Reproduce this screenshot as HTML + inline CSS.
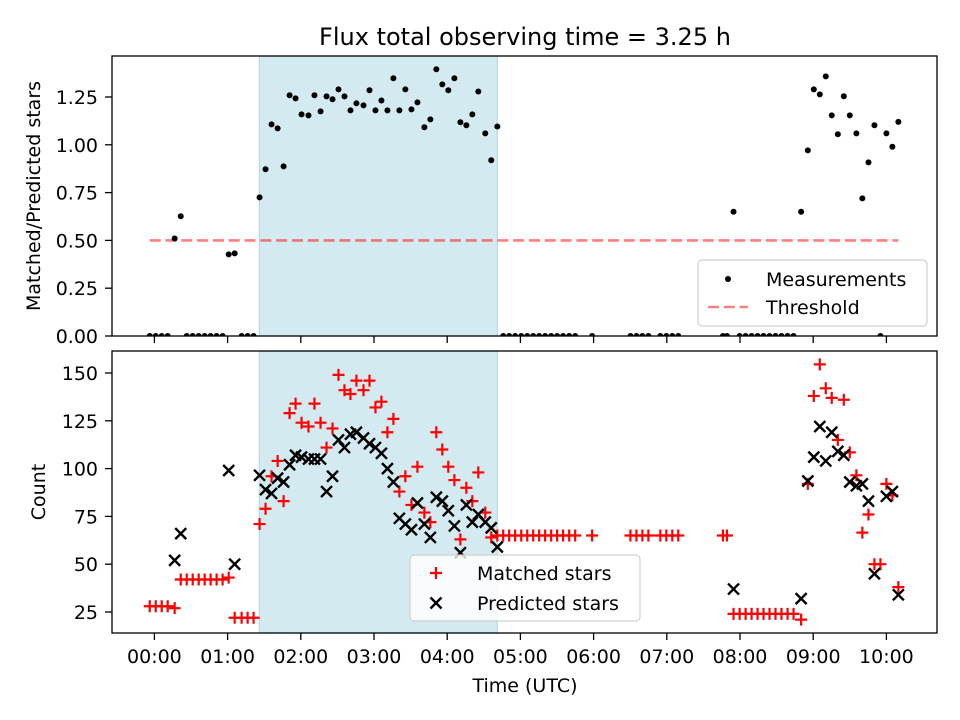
<!DOCTYPE html>
<html><head><meta charset="utf-8"><style>
html,body{margin:0;padding:0;background:#fff;}
svg{display:block;font-family:"DejaVu Sans","Liberation Sans",sans-serif;}
</style></head><body>
<svg id="chart" width="960" height="720" viewBox="0 0 960 720" xmlns="http://www.w3.org/2000/svg">
<rect x="0" y="0" width="960" height="720" fill="#fff"/>
<text x="525" y="45" font-size="24" text-anchor="middle">Flux total observing time = 3.25 h</text>
<g id="top"></g>
<g id="bot"></g>
<text transform="translate(40,196) rotate(-90)" font-size="19" text-anchor="middle">Matched/Predicted stars</text>
<text transform="translate(45,492) rotate(-90)" font-size="19" text-anchor="middle">Count</text>
<text x="525" y="692" font-size="19" text-anchor="middle">Time (UTC)</text>
</svg>
<script>
// sample times in minutes since 00:00 UTC
const times = [-3.8,1.1,6.0,10.9,16.6,21.6,26.5,31.4,36.3,41.2,46.1,51.0,55.9,60.9,65.8,71.5,76.4,81.3,
86.2,91.1,96.0,101.0,105.9,110.8,115.7,120.6,126.3,131.2,136.2,141.1,146.0,150.9,155.8,160.7,165.6,171.4,176.3,181.2,186.1,191.0,195.9,200.8,205.7,210.7,215.6,221.3,226.2,231.1,236.0,240.9,245.9,250.8,255.7,260.6,265.5,271.2,276.1,281.1,
285.9,290.8,295.7,300.7,305.6,310.5,315.4,320.3,325.2,330.1,335.0,340.0,344.9,358.8,
390.2,395.1,400.0,404.9,414.7,419.6,424.5,429.4,466.0,469.3,
474.7,479.7,484.6,489.5,494.4,499.3,504.2,509.1,514.0,519.0,523.9,530.1,
535.6,540.5,545.4,550.3,555.2,560.2,565.1,570.0,575.4,580.3,585.3,590.2,595.1,600.0,604.9,609.8];
const matched = [28,28,28,28,27,42,42,42,42,42,42,42,42,43,22,22,22,22,
71,79,96,104,83,129,134,124,122,134,124,111,121,149,141,139,146,141,146,132,135,119,126,88,96,81,101,77,72,119,110,101,94,63,90,83,98,77,64,65,
65,65,65,65,65,65,65,65,65,65,65,65,65,65,
65,65,65,65,65,65,65,65,65,65,
24,24,24,24,24,24,24,24,24,24,24,21,
92,138,154.5,142,137,115,136,108.5,96.5,66.5,76,50,50,92,86,38];
const predicted = [null,null,null,null,52,66,null,null,null,null,null,null,null,99,50,null,null,null,
96.5,89,87,95,93,102,107,106,105,105,105,88,96,115,111,118,119,116,113,111,108,100,93,74,71,68,82,71,64,85,83,78,70,56,81,72,76,72,69,59,
null,null,null,null,null,null,null,null,null,null,null,null,null,null,
null,null,null,null,null,null,null,null,null,null,
37,null,null,null,null,null,null,null,null,null,null,32,
93.5,106,122,104,119,109,107,93,91,92,83,45,null,85.5,88,34];
const ratio = [0,0,0,0,0.51,0.626,0,0,0,0,0,0,0,0.427,0.432,0,0,0,
0.725,0.872,1.107,1.086,0.887,1.259,1.243,1.159,1.154,1.259,1.175,1.253,1.238,1.29,1.253,1.18,1.217,1.206,1.285,1.18,1.232,1.18,1.348,1.18,1.29,1.185,1.222,1.092,1.133,1.395,1.316,1.285,1.348,1.118,1.102,1.159,1.279,1.06,0.919,1.096,
0,0,0,0,0,0,0,0,0,0,0,0,0,0,
0,0,0,0,0,0,0,0,0,0,
0.65,0,0,0,0,0,0,0,0,0,0,0.65,
0.971,1.29,1.264,1.358,1.154,1.055,1.254,1.154,1.06,0.72,0.908,1.102,0,1.06,0.99,1.12];
const threshold = 0.5;
const spanStart = 86.0, spanEnd = 281.1;
const xTickMinutes = [0,60,120,180,240,300,360,420,480,540,600];
const xTickLabels = ["00:00","01:00","02:00","03:00","04:00","05:00","06:00","07:00","08:00","09:00","10:00"];
const ratioTicks = [0,0.25,0.5,0.75,1.0,1.25];
const ratioTickLabels = ["0.00","0.25","0.50","0.75","1.00","1.25"];
const countTicks = [25,50,75,100,125,150];
const countTickLabels = ["25","50","75","100","125","150"];

const NS = "http://www.w3.org/2000/svg";
const L = 112, R = 937;
const TT = 56, TB = 336, BT = 351, BB = 633;
const xs = m => 154.4 + m * 1.2200;
const yTop = v => TB - v * 191.2;
const yBot = v => 612 - (v - 25) * 1.912;
function mk(tag, attrs, parent) {
  const e = document.createElementNS(NS, tag);
  for (const k in attrs) e.setAttribute(k, attrs[k]);
  parent.appendChild(e);
  return e;
}
function panel(g, top, bottom, ticks, labels, yf, showX, nm) {
  const clipId = 'clip-' + nm;
  const cp = mk('clipPath', {id: clipId}, g);
  mk('rect', {x: L, y: top, width: R - L, height: bottom - top}, cp);
  const span = mk('rect', {x: xs(spanStart), y: top, width: xs(spanEnd) - xs(spanStart), height: bottom - top, fill: '#d4eaf1', stroke: '#b6dbe6', 'stroke-width': 1.2}, g);
  
  
  const marks = mk('g', {'clip-path': 'url(#' + clipId + ')'}, g);
  ticks.forEach((t, i) => {
    const y = yf(t);
    const tk = mk('line', {x1: L - 7, x2: L, y1: y, y2: y, stroke: '#000', 'stroke-width': 1.3}, g);
    
    
    const tl = mk('text', {x: 98, y: y + 7, 'font-size': 19, 'text-anchor': 'end'}, g);
    tl.textContent = labels[i];
    
    
  });
  xTickMinutes.forEach((m, i) => {
    const x = xs(m);
    const tk = mk('line', {x1: x, x2: x, y1: bottom, y2: bottom + 7, stroke: '#000', 'stroke-width': 1.3}, g);
    
    
    if (showX) {
      const tl = mk('text', {x: x, y: 663, 'font-size': 19, 'text-anchor': 'middle'}, g);
      tl.textContent = xTickLabels[i];
      
      
    }
  });
  return marks;
}
const gTop = document.getElementById('top');
const gBot = document.getElementById('bot');
const mTop = panel(gTop, TT, TB, ratioTicks, ratioTickLabels, yTop, false, 'ratio');
const mBot = panel(gBot, BT, BB, countTicks, countTickLabels, yBot, true, 'count');

// threshold
const th = mk('line', {x1: xs(times[0]), x2: xs(times[times.length - 1]), y1: yTop(threshold), y2: yTop(threshold), stroke: '#ff0000', 'stroke-opacity': 0.5, 'stroke-width': 2.6, 'stroke-dasharray': '11,4.8'}, mTop);


// measurements
times.forEach((t, i) => {
  const c = mk('circle', {cx: xs(t), cy: yTop(ratio[i]), r: 3, fill: '#000'}, mTop);
  
  
});
// matched (+)
times.forEach((t, i) => {
  const x = xs(t), y = yBot(matched[i]), s = 6;
  const p = mk('path', {d: `M${x - s},${y}H${x + s}M${x},${y - s}V${y + s}`, stroke: '#ff0000', 'stroke-width': 2.2, fill: 'none'}, mBot);
  
  
});
// predicted (x)
times.forEach((t, i) => {
  if (predicted[i] === null) return;
  const x = xs(t), y = yBot(predicted[i]), s = 5.5;
  const p = mk('path', {d: `M${x - s},${y - s}L${x + s},${y + s}M${x - s},${y + s}L${x + s},${y - s}`, stroke: '#000', 'stroke-width': 2.4, fill: 'none'}, mBot);
  
  
});
// frames
[[TT, TB, gTop], [BT, BB, gBot]].forEach(([a, b, g]) => {
  const f = mk('rect', {x: L, y: a, width: R - L, height: b - a, fill: 'none', stroke: '#000', 'stroke-width': 1.3}, g);
  
  
});
// legends
function legend(g, x, y, w, h, nm) {
  const r = mk('rect', {x: x, y: y, width: w, height: h, rx: 4, fill: '#fff', 'fill-opacity': 0.8, stroke: '#d0d0d0', 'stroke-width': 1.2}, g);
  
  
}
legend(gTop, 698, 260, 229, 66, 'ratio-legend');
const ld = mk('circle', {cx: 728, cy: 279, r: 3, fill: '#000'}, gTop);


const lt1 = mk('text', {x: 766, y: 286, 'font-size': 19}, gTop);
lt1.textContent = 'Measurements';


const ll = mk('line', {x1: 708, x2: 748, y1: 307, y2: 307, stroke: '#ff0000', 'stroke-opacity': 0.5, 'stroke-width': 2.6, 'stroke-dasharray': '11,4.8'}, gTop);


const lt2 = mk('text', {x: 766, y: 314, 'font-size': 19}, gTop);
lt2.textContent = 'Threshold';



legend(gBot, 410, 555, 230, 66, 'count-legend');
const lp = mk('path', {d: 'M430,573H442M436,567V579', stroke: '#ff0000', 'stroke-width': 2.2, fill: 'none'}, gBot);


const lt3 = mk('text', {x: 477, y: 580, 'font-size': 19}, gBot);
lt3.textContent = 'Matched stars';


const lx = mk('path', {d: 'M430.5,597.5L441.5,608.5M430.5,608.5L441.5,597.5', stroke: '#000', 'stroke-width': 2.4, fill: 'none'}, gBot);


const lt4 = mk('text', {x: 477, y: 610, 'font-size': 19}, gBot);
lt4.textContent = 'Predicted stars';


</script>
</body></html>
